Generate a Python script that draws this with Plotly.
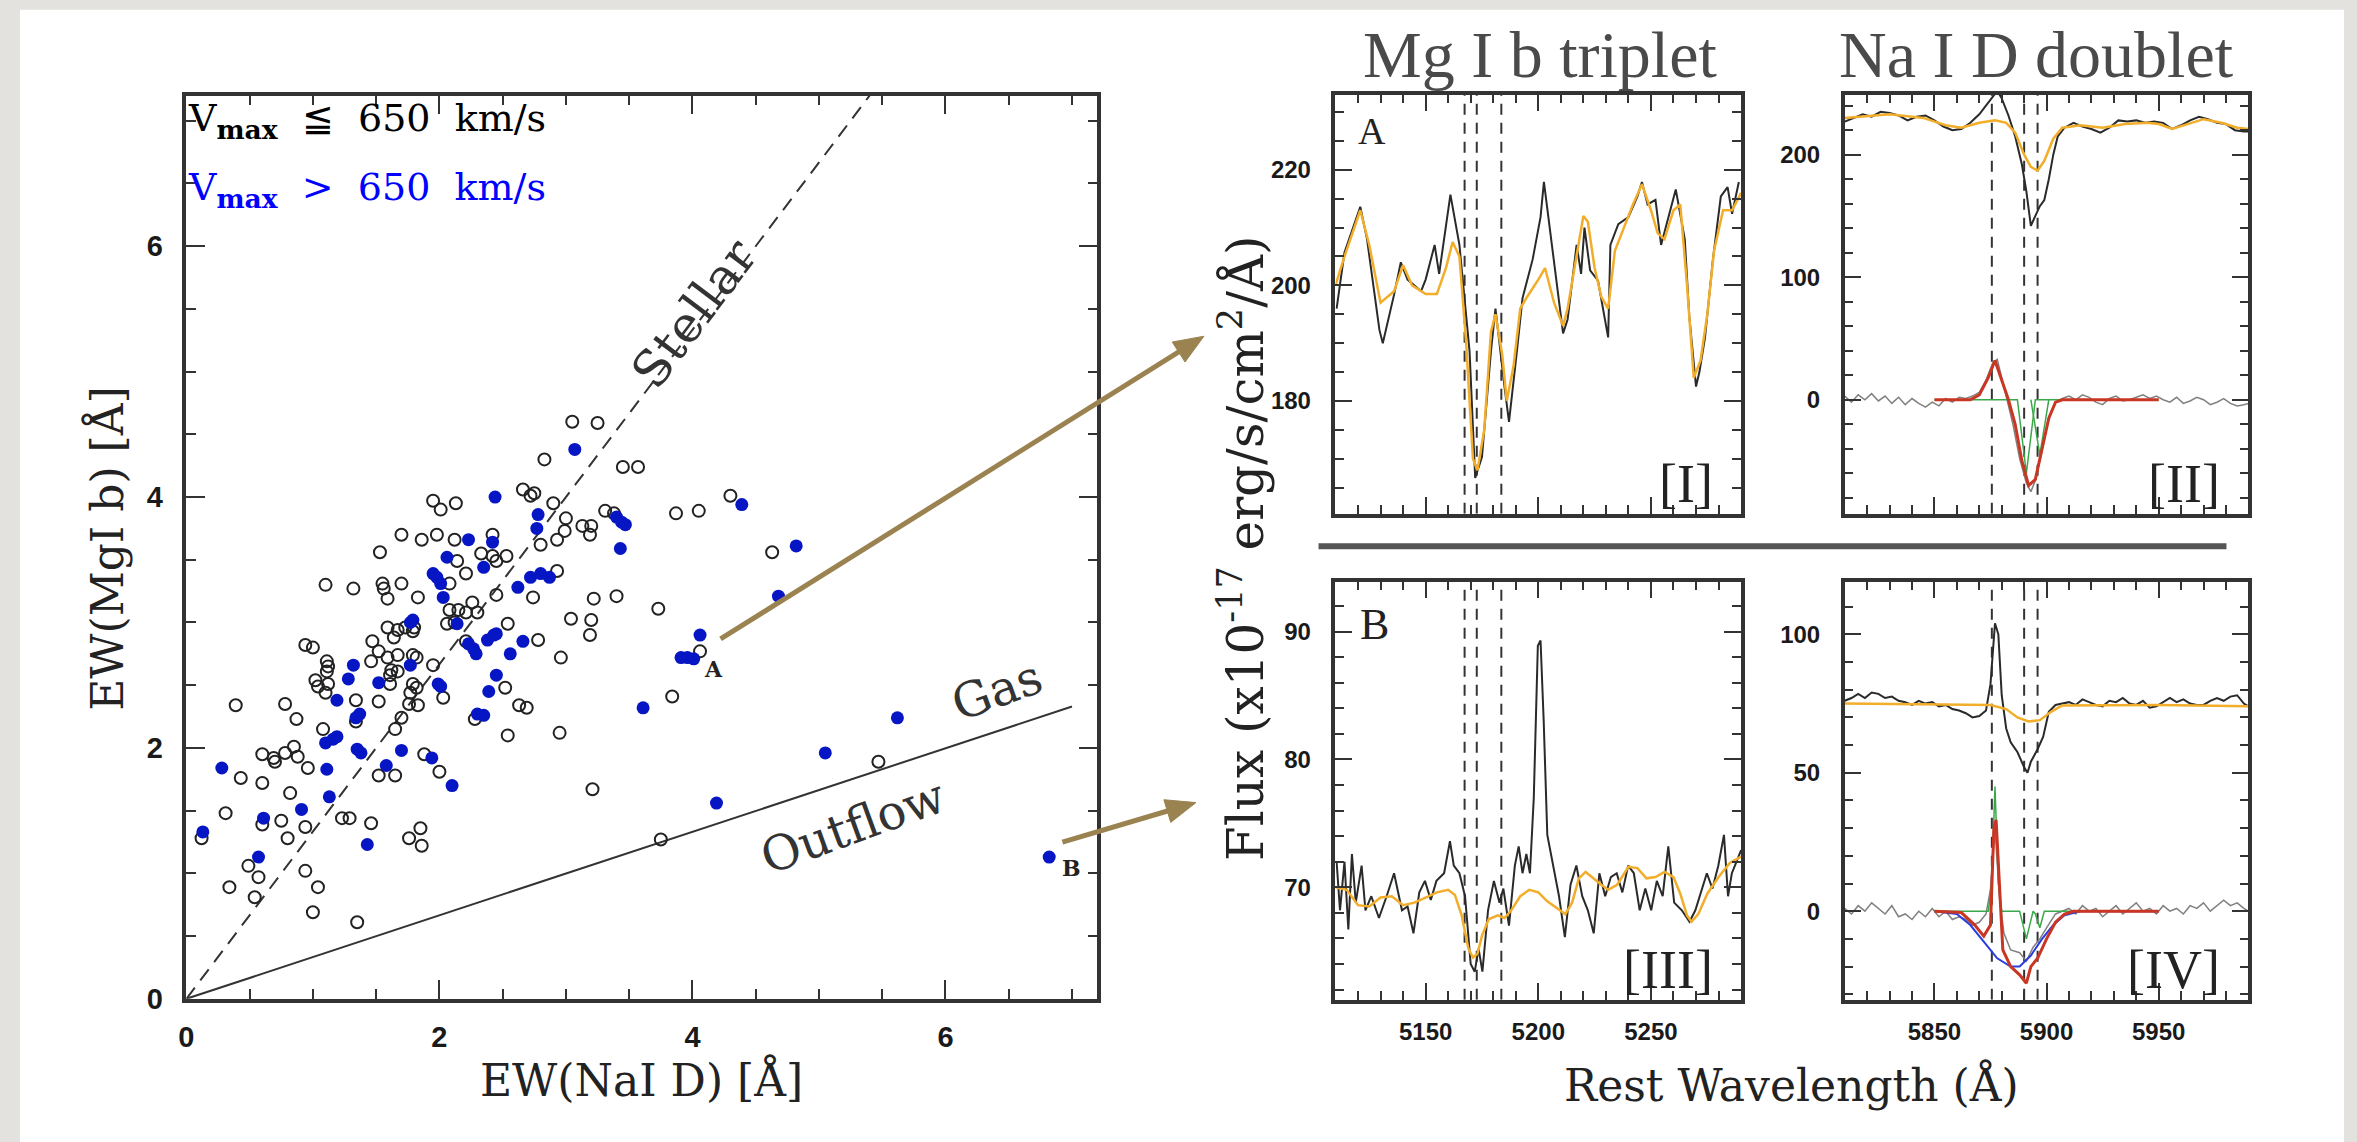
import math
import plotly.graph_objects as go

W, H = 2357, 1142

# ---------------- left panel: EW(NaI D) vs EW(MgI b) ----------------
slow_pts = [  # V_max <= 650 km/s (open black circles)
    (1.95,3.97),(2.01,3.90),(2.13,3.95),(2.72,4.01),(2.90,3.95),(3.00,3.83),(2.99,3.73),(3.13,3.77),(3.20,3.77),
    (3.19,3.70),(3.31,3.89),(3.38,3.87),(3.87,3.87),(4.05,3.89),(1.70,3.70),(1.86,3.66),(1.98,3.70),(2.12,3.66),
    (2.42,3.70),(1.53,3.56),(2.33,3.55),(2.42,3.53),(2.45,3.49),(2.53,3.53),(2.80,3.62),(2.93,3.66),(2.14,3.49),
    (2.21,3.39),(2.08,3.31),(1.10,3.30),(1.32,3.27),(1.55,3.31),(1.56,3.27),(1.59,3.19),(1.70,3.31),(1.83,3.20),
    (2.45,3.22),(2.74,3.20),(2.93,3.41),(3.22,3.19),(3.40,3.21),(3.73,3.11),(2.08,3.10),(2.15,3.10),(2.21,3.08),
    (2.26,3.16),(2.30,3.08),(2.06,2.99),(2.12,3.00),(1.59,2.96),(1.67,2.94),(1.73,2.96),(1.79,2.93),(1.80,2.96),
    (1.47,2.85),(1.64,2.88),(2.54,2.99),(3.04,3.03),(3.20,3.02),(3.19,2.90),(2.78,2.86),(2.21,2.85),(0.94,2.82),
    (1.00,2.80),(1.52,2.77),(1.59,2.72),(1.67,2.74),(1.46,2.69),(1.11,2.69),(1.12,2.65),(1.11,2.61),(1.62,2.62),
    (1.67,2.61),(1.61,2.58),(1.79,2.74),(1.82,2.72),(1.95,2.66),(2.96,2.72),(1.61,2.51),(1.02,2.54),(1.04,2.49),
    (1.10,2.44),(1.12,2.51),(1.79,2.51),(1.82,2.48),(1.77,2.44),(2.52,2.48),(1.34,2.38),(1.52,2.37),(1.76,2.35),
    (1.83,2.34),(2.03,2.40),(0.39,2.34),(0.78,2.35),(2.63,2.34),(2.69,2.32),(1.34,2.21),(1.70,2.24),(2.28,2.23),
    (3.84,2.41),(0.87,2.23),(1.08,2.15),(1.65,2.15),(2.54,2.10),(2.95,2.12),(0.60,1.95),(0.69,1.92),(0.70,1.89),
    (0.78,1.96),(0.85,2.01),(0.88,1.93),(0.96,1.84),(1.88,1.95),(2.00,1.81),(1.52,1.78),(1.65,1.78),(0.43,1.76),
    (0.60,1.72),(3.21,1.67),(0.82,1.64),(0.31,1.48),(0.60,1.39),(0.75,1.42),(1.23,1.44),(1.29,1.44),(1.46,1.40),
    (0.94,1.37),(0.12,1.28),(0.80,1.28),(1.85,1.36),(1.76,1.28),(1.86,1.22),(0.49,1.06),(0.57,0.97),(0.94,1.02),
    (1.04,0.89),(0.34,0.89),(0.54,0.81),(1.00,0.69),(1.35,0.61),(3.75,1.27),(3.05,4.60),(3.25,4.59),(2.83,4.30),
    (3.45,4.24),(3.57,4.24),(2.66,4.06),(2.75,4.03),(4.30,4.01),(4.63,3.56),(4.06,2.77),(5.47,1.89),
]
fast_pts = [  # V_max > 650 km/s (filled blue circles)
    (2.44,4.00),(2.78,3.86),(2.77,3.75),(3.40,3.84),(3.44,3.80),(3.47,3.78),(3.43,3.59),(2.23,3.66),(2.42,3.64),
    (2.06,3.52),(1.95,3.39),(1.98,3.36),(2.01,3.31),(2.35,3.44),(2.03,3.20),(2.62,3.28),(2.72,3.36),(2.80,3.39),
    (2.87,3.36),(1.77,3.00),(1.79,3.02),(2.14,2.99),(2.38,2.86),(2.43,2.90),(2.45,2.91),(2.66,2.85),(2.23,2.83),
    (2.27,2.79),(2.29,2.75),(1.32,2.66),(1.77,2.66),(2.56,2.75),(2.45,2.58),(1.28,2.55),(1.52,2.52),(1.99,2.51),
    (2.01,2.49),(1.19,2.38),(2.39,2.45),(1.37,2.27),(1.34,2.24),(2.30,2.27),(2.35,2.26),(3.61,2.32),(1.10,2.04),
    (1.16,2.07),(1.19,2.09),(1.35,1.99),(1.38,1.96),(1.70,1.98),(0.28,1.84),(1.94,1.92),(1.11,1.83),(1.58,1.86),
    (2.10,1.70),(1.13,1.61),(0.91,1.51),(0.61,1.44),(0.13,1.33),(1.43,1.23),(0.57,1.13),(3.07,4.38),(4.39,3.94),
    (4.82,3.61),(4.68,3.21),(4.06,2.90),(3.91,2.72),(3.96,2.72),(4.01,2.71),(5.62,2.24),(5.05,1.96),(4.19,1.56),
    (6.82,1.13),
]
stellar_line = [(0, 0), (5.4, 7.2)]
gas_line = [(0, 0), (7.0, 2.33)]

# ---------------- right panels: spectra ----------------
mg_lines = [5167.3, 5172.7, 5183.6]
na_lines = [5875.6, 5890.0, 5896.0]

mgA_obs = [(5110.5,196),(5114,205.7),(5121,213.6),(5124,208),(5129.5,192.3),(5131,190),(5136,198.4),(5139,204),
    (5142,201),(5148,199),(5150,201),(5154,207),(5156,202),(5161,215.7),(5165,207),(5169.5,188.6),(5172,166.7),
    (5175,170.3),(5179,188.6),(5181,196),(5185,182.5),(5187,176.4),(5190.5,188.6),(5193,197.8),(5197.5,204.5),
    (5201,211.8),(5202.5,217.9),(5206,207),(5211,191.7),(5213,194.1),(5217,207),(5219,202),(5220.5,210),
    (5223,202.6),(5226.5,200.8),(5231,191),(5232,207),(5235.5,210.6),(5240,211.8),(5244,215.4),(5246,217.9),
    (5248.5,214),(5252,214.8),(5254.5,207),(5257,210.6),(5261,216.6),(5265,208),(5267,194.7),(5270,182.5),
    (5271.5,185),(5274,191),(5277.5,204.5),(5281,215.4),(5284,217),(5286,212.4),(5289,217.9)]
mgA_model = [(5110,200),(5114,205),(5121,213),(5125,207),(5130,197),(5136,199),(5140,203.5),(5144,200),(5150,198.5),
    (5155,198.5),(5159,203),(5162,207.5),(5165,205),(5168,190),(5171,170),(5173,168),(5176,175),(5179,192),
    (5181,195),(5184,188),(5186,180),(5189,186),(5192,196),(5195,198),(5200,201),(5203,203),(5207,197),(5211,193),
    (5213,196),(5217,205),(5220,212),(5222,211),(5225,203),(5228,198),(5231,196),(5234,206),(5238,210),(5242,214),
    (5246,217.5),(5250,213),(5253,209),(5256,208),(5260,213),(5263,214),(5266,200),(5269,184),(5272,187),
    (5275,195),(5278,206),(5282,213),(5286,213),(5290,216)]

mgB_obs = [(5110.5,72),(5112,68.2),(5114,72),(5115.7,66.7),(5117.3,72.6),(5119,68.8),(5121.6,71.7),(5123.3,68.2),
    (5125.9,69.3),(5129.3,67.6),(5132.7,69.3),(5136,71.1),(5139.5,68.2),(5142,68.5),(5144.6,66.4),(5147.2,69.6),
    (5149.7,70.5),(5152.3,69),(5154.8,70.5),(5158.2,71.1),(5160.8,73.6),(5162.5,71.7),(5165,71.1),(5167.5,69.3),
    (5170,64),(5171.8,63.4),(5173.5,65.2),(5175.2,63.4),(5177.7,68.2),(5180.3,70.5),(5182.8,68.8),(5184.5,69.9),
    (5187,67),(5189.6,71.7),(5191.3,73.2),(5193,71.1),(5194.7,72.6),(5196.3,71.1),(5198,77),(5199.8,88.9),
    (5201,89.3),(5202.4,83),(5204,74.1),(5206.7,71.7),(5209.2,69.3),(5211.8,66.1),(5214.3,70.2),(5216.9,71.7),
    (5219.5,69.3),(5222,68.2),(5224.6,66.4),(5227.1,71.1),(5229.7,69.3),(5232.2,70.8),(5234.8,71.1),(5237.3,69.6),
    (5239.9,71.7),(5242.4,71.1),(5245,68.2),(5247.5,69.9),(5250.1,68.2),(5252.6,70.5),(5255.2,69.3),(5257.7,73.2),
    (5260.3,68.8),(5263.7,68.2),(5267.1,67.3),(5269.7,68.2),(5272.2,69.6),(5274.8,71.1),(5277.3,69.9),(5279.9,71.7),
    (5282.4,74.1),(5284.2,69.3),(5285.9,71.1),(5288.4,72.3),(5290,72.9)]
mgB_model = [(5110,70),(5115,69.8),(5120,68.6),(5125,68.5),(5130,69.2),(5135,69.3),(5140,68.6),(5145,68.8),(5150,69.2),
    (5155,69.6),(5160,69.8),(5163,69.4),(5166,67.8),(5169,65.2),(5171,64.5),(5173,64.8),(5175,66.2),(5178,67.5),
    (5182,67.8),(5185,67.6),(5188,68.2),(5192,69.3),(5196,69.8),(5200,69.6),(5204,68.9),(5208,68.4),(5212,67.9),
    (5215,68.8),(5218,70.7),(5221,71.2),(5225,70.6),(5228,70.2),(5231,69.8),(5235,70.2),(5240,71.6),(5244,71.5),
    (5248,70.7),(5252,70.8),(5256,71.2),(5260,70.8),(5263,69.5),(5266,67.8),(5268,67.3),(5271,67.9),(5275,69.5),
    (5280,70.8),(5285,71.9),(5290,72.4)]

naA_obs = [(5810,227),(5814,230),(5818,233),(5822,231),(5826,235),(5830,234),(5834,232),(5838,228),(5842,231),
    (5846,232),(5850,228),(5854,223),(5858,220),(5862,221),(5866,226),(5870,233),(5873,240),(5876,247),(5878,252),
    (5880,246),(5883,232),(5886,215),(5889,192),(5891,170),(5893,142),(5895,150),(5897,158),(5899,163),(5901,180),
    (5903,200),(5905,215),(5908,222),(5912,226),(5916,223),(5920,221),(5924,218),(5928,222),(5932,228),(5936,227),
    (5940,228),(5944,226),(5948,227),(5952,226),(5956,221),(5960,224),(5964,228),(5968,231),(5972,229),(5976,226),
    (5980,225),(5984,220),(5988,219),(5990,219)]
naA_model = [(5810,230),(5830,233),(5845,230),(5855,224),(5862,222),(5870,226),(5877,228),(5882,226),(5886,218),
    (5890,200),(5893,190),(5896,187),(5899,195),(5903,213),(5907,222),(5915,224),(5925,222),(5935,225),(5945,226),
    (5950,225),(5956,221),(5965,226),(5970,229),(5978,226),(5985,222),(5990,221)]
naA_resid = [(5810,3),(5813,-2),(5816,4),(5819,0),(5822,5),(5825,-1),(5828,3),(5831,-3),(5834,2),(5837,-4),(5840,1),
    (5843,-3),(5846,-6),(5849,-2),(5852,-5),(5855,1),(5858,-2),(5861,2),(5864,1),(5867,3),(5870,6),(5873,16),
    (5876,30),(5878,33),(5880,18),(5882,2),(5885,-20),(5888,-48),(5891,-68),(5893,-75),(5895,-66),(5898,-42),
    (5901,-14),(5904,-2),(5907,1),(5910,3),(5913,0),(5916,4),(5919,2),(5922,-2),(5925,-4),(5928,1),(5931,3),
    (5934,-1),(5937,0),(5940,2),(5943,4),(5946,1),(5949,3),(5952,0),(5955,-2),(5958,2),(5961,-3),(5964,-1),
    (5967,2),(5970,0),(5973,-4),(5976,-2),(5979,1),(5982,-3),(5985,-5),(5988,-4),(5990,-3)]
naA_fit = [(5850,0),(5866,0),(5870,4),(5874,18),(5877,32),(5880,16),(5883,0),(5886,-20),(5889,-50),(5892,-70),
    (5895,-65),(5898,-40),(5901,-15),(5904,-2),(5907,0),(5950,0)]
naA_compD2 = [(5850,0),(5887,0),(5891,-60),(5895,0),(5950,0)]
naA_compD1 = [(5893,0),(5897,-45),(5901,0)]

naB_obs = [(5810,76),(5813,77),(5816,78.5),(5819,77),(5822,79),(5825,78.5),(5828,77),(5831,77.5),(5834,76),
    (5837,75.5),(5840,74.5),(5843,76),(5846,75),(5849,75.5),(5852,74),(5855,74.5),(5858,73),(5861,72.5),
    (5864,71.5),(5867,70),(5870,70.5),(5873,72.5),(5875,82),(5877,104),(5878.5,100),(5880,78),(5882,66),(5884,61),
    (5887,57.5),(5890,52),(5891.5,50),(5893,54),(5896,58.5),(5898.5,63),(5901,72),(5904,74.5),(5907,75),
    (5910,75.5),(5913,74.5),(5916,76.5),(5919,75.5),(5922,74.5),(5925,74),(5928,76),(5931,75.5),(5934,77),
    (5937,75),(5940,74.5),(5943,76),(5946,73.5),(5949,74),(5952,75.5),(5955,77),(5958,75.5),(5961,76.5),
    (5964,75),(5967,74.5),(5970,74.5),(5973,76),(5976,77),(5979,76),(5982,77.5),(5985,78),(5988,75),(5990,74)]
naB_model = [(5810,75),(5850,74.8),(5875,74.5),(5882,73),(5887,70),(5892,68.5),(5897,69),(5902,72),(5907,74.3),
    (5950,74.5),(5990,74)]
naB_resid = [(5810,1),(5813,-1),(5816,2),(5819,0),(5822,3),(5825,1),(5828,-1),(5831,2),(5834,-2),(5837,-1),
    (5840,-3),(5843,0),(5846,-2),(5849,1),(5852,-2),(5855,0),(5858,-3),(5861,-2),(5864,-3),(5867,-5),(5870,-4),
    (5873,-1),(5875,8),(5877,30),(5879,5),(5881,-8),(5884,-14),(5888,-15),(5891,-18),(5894,-13),(5897,-10),
    (5900,-6),(5904,-1),(5907,0),(5910,1),(5913,-1),(5916,2),(5919,0),(5922,1),(5925,-2),(5928,0),(5931,2),
    (5934,-1),(5937,1),(5940,3),(5943,0),(5946,1),(5949,-1),(5952,2),(5955,0),(5958,1),(5961,-1),(5964,2),
    (5967,1),(5970,3),(5973,0),(5976,2),(5979,4),(5982,2),(5985,3),(5988,1),(5990,0)]
naB_fit = [(5850,0),(5862,-0.5),(5868,-5),(5872,-9),(5875,-5),(5876.5,30),(5877.5,33),(5879,10),(5880.5,-14),
    (5884,-20),(5888,-23),(5891,-26),(5893,-20),(5896,-17),(5900,-10),(5904,-4),(5908,-1),(5912,0),(5950,0)]
naB_broad = [(5850,0),(5860,-1),(5866,-5),(5872,-11),(5878,-17),(5884,-20),(5888,-20),(5893,-16),(5898,-10),
    (5903,-5),(5908,-1.5),(5915,0),(5950,0)]
naB_comps = [(5850,0),(5874,0),(5875.5,10),(5877,45),(5878.5,10),(5880,0),(5888,0),(5891,-10),(5894,0),
    (5895,-1),(5897,-6),(5899,0),(5950,0)]

# ---------------- helpers ----------------
def px(x):
    return x / W

def py(y):
    return 1 - y / H

fig = go.Figure()

def xs(p):
    return [a for a, b in p]

def ys(p):
    return [b for a, b in p]

def line(p, xa, ya, color, width, dash=None):
    fig.add_trace(go.Scatter(x=xs(p), y=ys(p), mode="lines", xaxis=xa, yaxis=ya,
                             line=dict(color=color, width=width, dash=dash), hoverinfo="skip"))

# left panel
line(stellar_line, "x", "y", "#333", 2, dash="14px,9px")
line(gas_line, "x", "y", "#333", 2)
fig.add_trace(go.Scatter(x=xs(slow_pts), y=ys(slow_pts), mode="markers", xaxis="x", yaxis="y",
                         marker=dict(symbol="circle-open", size=12, color="#222", line=dict(width=2, color="#222"))))
fig.add_trace(go.Scatter(x=xs(fast_pts), y=ys(fast_pts), mode="markers", xaxis="x", yaxis="y",
                         marker=dict(symbol="circle", size=13, color="#0716c4", line=dict(width=0))))

BLACK = "#2a2a2a"
ORANGE = "#f2ae2a"
RED = "#c93623"
GREEN = "#3aa84a"
BLUE = "#2a3ee0"
GRAY = "#808080"

def vlines(lines, xa, ya, y0, y1):
    for w in lines:
        fig.add_trace(go.Scatter(x=[w, w], y=[y0, y1], mode="lines", xaxis=xa, yaxis=ya,
                                 line=dict(color="#333", width=2, dash="11px,8px"), hoverinfo="skip"))

vlines(mg_lines, "x2", "y2", 160.5, 233)
line(mgA_obs, "x2", "y2", BLACK, 2)
line(mgA_model, "x2", "y2", ORANGE, 2.5)

vlines(na_lines, "x3", "y3", -93, 249)
line(naA_obs, "x3", "y3", BLACK, 2)
line(naA_model, "x3", "y3", ORANGE, 2.5)
line(naA_resid, "x3", "y3", GRAY, 1.5)
line(naA_compD2, "x3", "y3", GREEN, 1.5)
line(naA_compD1, "x3", "y3", GREEN, 1.5)
line(naA_fit, "x3", "y3", RED, 3)

vlines(mg_lines, "x4", "y4", 61.2, 93.9)
line(mgB_obs, "x4", "y4", BLACK, 2)
line(mgB_model, "x4", "y4", ORANGE, 2.5)

vlines(na_lines, "x5", "y5", -32, 119)
line(naB_obs, "x5", "y5", BLACK, 2)
line(naB_model, "x5", "y5", ORANGE, 2.5)
line(naB_resid, "x5", "y5", GRAY, 1.5)
line(naB_broad, "x5", "y5", BLUE, 2)
line(naB_comps, "x5", "y5", GREEN, 1.5)
line(naB_fit, "x5", "y5", RED, 3)

def axis(dom, rng, dtick, minor, labels, fsize, tlen, mlen, lw, standoff, anchor):
    return dict(domain=dom, range=rng, dtick=dtick, tick0=0, ticks="inside", ticklen=tlen, tickwidth=2,
                tickcolor="#333", showline=True, linewidth=lw, linecolor="#333", mirror="ticks",
                showgrid=False, zeroline=False, showticklabels=labels, anchor=anchor,
                ticklabelstandoff=standoff,
                tickfont=dict(family="Liberation Sans", size=fsize, color="#1a1a1a", weight="bold"),
                minor=dict(dtick=minor, ticks="inside", ticklen=mlen, tickwidth=2, tickcolor="#333", showgrid=False),
                fixedrange=True)

L = dict(x0=179, x1=1093, y0=97, y1=1013)
P1 = dict(x0=1332, x1=1739, y0=96, y1=521)
P2 = dict(x0=1843, x1=2248, y0=96, y1=521)
P3 = dict(x0=1332, x1=1739, y0=590, y1=1014)
P4 = dict(x0=1843, x1=2248, y0=590, y1=1014)

def xd(p):
    return [px(p["x0"]), px(p["x1"])]

def yd(p):
    return [py(p["y1"]), py(p["y0"])]

fig.update_layout(
    width=W, height=H, autosize=False, margin=dict(l=0, r=0, t=0, b=0),
    paper_bgcolor="#e3e2de", plot_bgcolor="white", showlegend=False,
    xaxis=axis(xd(L), [0, 7.2], 2, 0.5, True, 29, 19, 10, 3.5, 10, "y"),
    yaxis=axis(yd(L), [0, 7.2], 2, 0.5, True, 29, 19, 10, 3.5, 14, "x"),
    xaxis2=axis(xd(P1), [5110, 5290], 50, 10, False, 24, 17, 9, 3.5, 8, "y2"),
    yaxis2=axis(yd(P1), [160.5, 233], 20, 5, True, 24, 17, 9, 3.5, 16, "x2"),
    xaxis3=axis(xd(P2), [5810, 5990], 50, 10, False, 24, 17, 9, 3.5, 8, "y3"),
    yaxis3=axis(yd(P2), [-93, 249], 100, 20, True, 24, 17, 9, 3.5, 16, "x3"),
    xaxis4=axis(xd(P3), [5110, 5290], 50, 10, True, 24, 17, 9, 3.5, 8, "y4"),
    yaxis4=axis(yd(P3), [61.2, 93.9], 10, 2, True, 24, 17, 9, 3.5, 16, "x4"),
    xaxis5=axis(xd(P4), [5810, 5990], 50, 10, True, 24, 17, 9, 3.5, 8, "y5"),
    yaxis5=axis(yd(P4), [-32, 119], 50, 10, True, 24, 17, 9, 3.5, 16, "x5"),
)

# white card and separator
fig.add_shape(type="rect", xref="paper", yref="paper", x0=px(12), x1=px(2344), y0=-0.02, y1=py(10),
              fillcolor="white", line=dict(width=0), layer="below")
fig.add_shape(type="line", xref="paper", yref="paper", x0=px(1315), x1=px(2226), y0=py(554), y1=py(554),
              line=dict(color="#555", width=6))

def text(t, x, y, size, family, color="#222", angle=0, xanchor="center", yanchor="middle"):
    fig.add_annotation(text=t, x=px(x), y=py(y), xref="paper", yref="paper", showarrow=False,
                       textangle=angle, xanchor=xanchor, yanchor=yanchor,
                       font=dict(family=family, size=size, color=color))

SER = "DejaVu Serif"
TIM = "Liberation Serif"

text("Mg I b triplet", 1537, 55, 66, TIM, color="#4a4a4a")
text("Na I D doublet", 2035, 55, 66, TIM, color="#4a4a4a")

text("EW(MgI b) [Å]", 100, 556, 44, SER, angle=-90)
text("EW(NaI D) [Å]", 636, 1095, 44, SER)
text("Flux (x10<sup>-17</sup> erg/s/cm<sup>2</sup>/Å)", 1238, 556, 50, SER, angle=-90)
text("Rest Wavelength (Å)", 1790, 1100, 44, SER)

text("V<sub><b>max</b></sub>  ≦  650  km/s", 179, 122, 38, SER, color="#000", xanchor="left")
text("V<sub><b>max</b></sub>  >  650  km/s", 179, 192, 38, SER, color="#0000ff", xanchor="left")

text("Stellar", 688, 318, 50, SER, color="#333", angle=-53)
text("Gas", 992, 700, 48, SER, color="#333", angle=-20)
text("Outflow", 848, 838, 48, SER, color="#333", angle=-20)
text("<b>A</b>", 708, 678, 22, SER, color="#222")
text("<b>B</b>", 1067, 880, 22, SER, color="#222")

text("A", 1369, 133, 38, TIM)
text("B", 1371, 633, 44, TIM)
text("[I]", P1["x1"] - 26, P1["y1"] - 30, 54, TIM, xanchor="right")
text("[II]", P2["x1"] - 26, P2["y1"] - 30, 54, TIM, xanchor="right")
text("[III]", P3["x1"] - 26, P3["y1"] - 30, 54, TIM, xanchor="right")
text("[IV]", P4["x1"] - 26, P4["y1"] - 30, 54, TIM, xanchor="right")

# arrows drawn as shapes (shaft + filled head)
ARROW = "#9a8350"
for (tx, ty, hx, hy) in [(715, 648, 1200, 341), (1058, 854, 1192, 814)]:
    dx, dy = hx - tx, hy - ty
    n = math.hypot(dx, dy)
    ux, uy = dx / n, dy / n
    hl, hw = 30, 12
    bx, by = hx - hl * ux, hy - hl * uy
    fig.add_shape(type="line", xref="paper", yref="paper", x0=px(tx), y0=py(ty), x1=px(bx + 2 * ux), y1=py(by + 2 * uy),
                  line=dict(color=ARROW, width=5))
    p1 = (bx - hw * uy, by + hw * ux)
    p2 = (bx + hw * uy, by - hw * ux)
    path = "M {} {} L {} {} L {} {} Z".format(px(hx), py(hy), px(p1[0]), py(p1[1]), px(p2[0]), py(p2[1]))
    fig.add_shape(type="path", xref="paper", yref="paper", path=path, fillcolor=ARROW, line=dict(color=ARROW, width=1))

fig.write_html("out.html")
